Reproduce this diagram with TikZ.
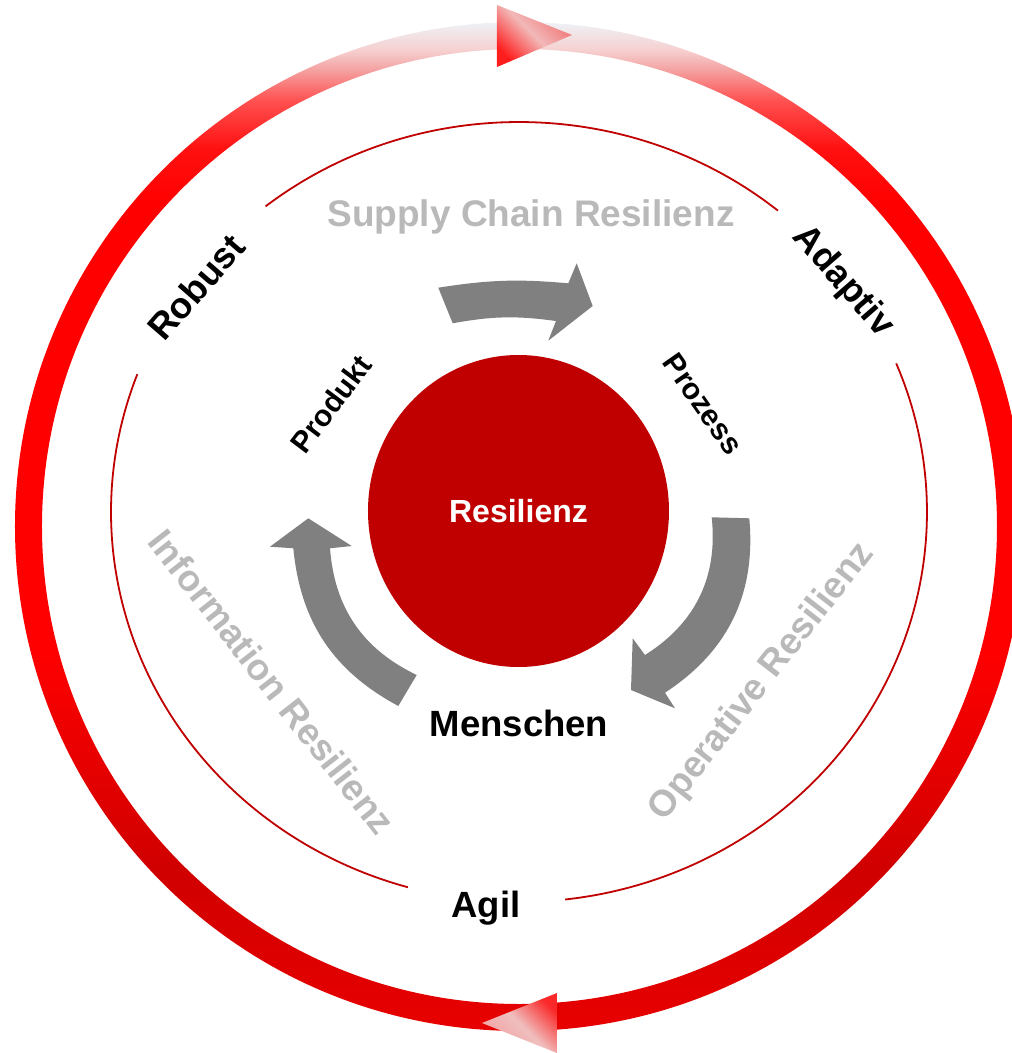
\documentclass[tikz,border=0pt]{standalone}
\usepackage{fontspec}
\setmainfont{Liberation Sans}
\usetikzlibrary{shapes.geometric}

\definecolor{hubred}{RGB}{192,0,0}
\definecolor{arrowgray}{RGB}{128,128,128}
\definecolor{softgray}{RGB}{185,185,185}
\definecolor{ringtop}{RGB}{238,242,246}
\definecolor{ringpale}{RGB}{246,208,208}
\definecolor{ringpink}{RGB}{244,160,160}
\definecolor{ringmid}{RGB}{255,80,80}
\definecolor{ringhot}{RGB}{255,16,16}
\definecolor{ringred}{RGB}{255,0,0}
\definecolor{ringdark}{RGB}{208,0,0}
\definecolor{ringbot}{RGB}{232,0,0}

\pgfdeclareverticalshading{ringfade}{100bp}{color(0bp)=(ringbot); color(25bp)=(ringbot);
  color(33bp)=(ringdark); color(44bp)=(ringred); color(66bp)=(ringred); color(68.7bp)=(ringhot);
  color(71.1bp)=(ringmid); color(72.6bp)=(ringpink); color(73.6bp)=(ringpale);
  color(75bp)=(ringtop); color(100bp)=(ringtop)}

\begin{document}
\begin{tikzpicture}[x=1pt,y=1pt,
    tag/.style={font=\fontsize{36.5}{40}\selectfont\bfseries,text=black,inner sep=0pt},
    minor/.style={tag,font=\fontsize{30}{33}\selectfont\bfseries},
    faint/.style={tag,text=softgray,font=\fontsize{37}{40}\selectfont\bfseries},
    hub/.style={ellipse,fill=hubred,minimum width=301pt,minimum height=312pt,inner sep=0pt,
                text=white,font=\fontsize{32}{36}\selectfont\bfseries},
    block/.style={fill=arrowgray,draw=none},
    thinring/.style={draw=hubred,line width=1.8pt}]

  \useasboundingbox (-519.5,-526.5) rectangle (492.5,526.5);
  \clip (-519.5,-526.5) rectangle (492.5,526.5);

  % outer cycle
  \shade[shading=ringfade] (504.5,0) arc[start angle=0,end angle=360,radius=504.5]
        -- (477.5,0) arc[start angle=360,end angle=0,radius=477.5] -- cycle;
  \shade[bottom color={rgb,255:red,255;green,30;blue,30},top color={rgb,255:red,240;green,110;blue,110},
         middle color={rgb,255:red,242;green,184;blue,184},shading angle=-45]
        (-22.5,521.5) -- (52.5,491.5) -- (-22.5,459.5) -- cycle;
  \shade[bottom color={rgb,255:red,242;green,160;blue,160},top color={rgb,255:red,250;green,40;blue,40},
         middle color={rgb,255:red,240;green,190;blue,190},shading angle=-45]
        (37.5,-466.5) -- (-37.5,-496.5) -- (37.5,-526.5) -- cycle;

  % inner ring
  \foreach \a/\b in {50.6/128.4,159.3/254.2,276.5/382.4}
    \draw[thinring] (-0.5,14.5) ++(\a:408 and 390) arc[start angle=\a,end angle=\b,x radius=408,y radius=390];

  % gray arrows
  \fill[block] (-81.2,238.8) to[bend left=7] (48.8,243.2) -- (57.2,263.2) -- (73.2,220.5)
        -- (28.8,185.8) -- (36.5,205.5) to[bend right=9] (-66.8,203.2) -- cycle;
  \fill[block] (192.2,9.2) -- (229.8,8.2) to[bend left=31] (145.5,-166.2) -- (155.5,-181.8)
        -- (111.5,-163.5) -- (113.2,-111.8) -- (125.5,-128.5) to[bend right=32] (192.2,9.2) -- cycle;
  \fill[block] (-102.8,-148.5) -- (-121.2,-179.5) to[bend left=28] (-226.2,-21.8) -- (-249.5,-20.2)
        -- (-211.2,8.2) -- (-167.8,-19.5) -- (-189.5,-21.8) to[bend right=30] (-102.8,-148.5) -- cycle;

  \node[hub] (hub) at (-1,15.5) {Resilienz};

  \node[tag,anchor=base]  (menschen) at (-0.5,-209.5) {Menschen};
  \node[tag,anchor=base]  (agil)     at (-33.5,-390.5) {Agil};
  \node[tag,rotate=49]    (robust)   at (-323.5,239.5) {Robust};
  \node[tag,rotate=-49]   (adaptiv)  at (323.5,244.5)  {Adaptiv};
  \node[minor,rotate=53]  (produkt)  at (-188.5,122.5) {Produkt};
  \node[minor,rotate=-55] (prozess)  at (183.5,122.5)  {Prozess};

  \node[faint,anchor=base] (supply) at (11.5,299.5)   {Supply Chain Resilienz};
  \node[faint,rotate=-52]  (info)   at (-247.5,-155.5) {Information Resilienz};
  \node[faint,rotate=52]   (oper)   at (242.5,-155.5)  {Operative Resilienz};
\end{tikzpicture}
\end{document}
